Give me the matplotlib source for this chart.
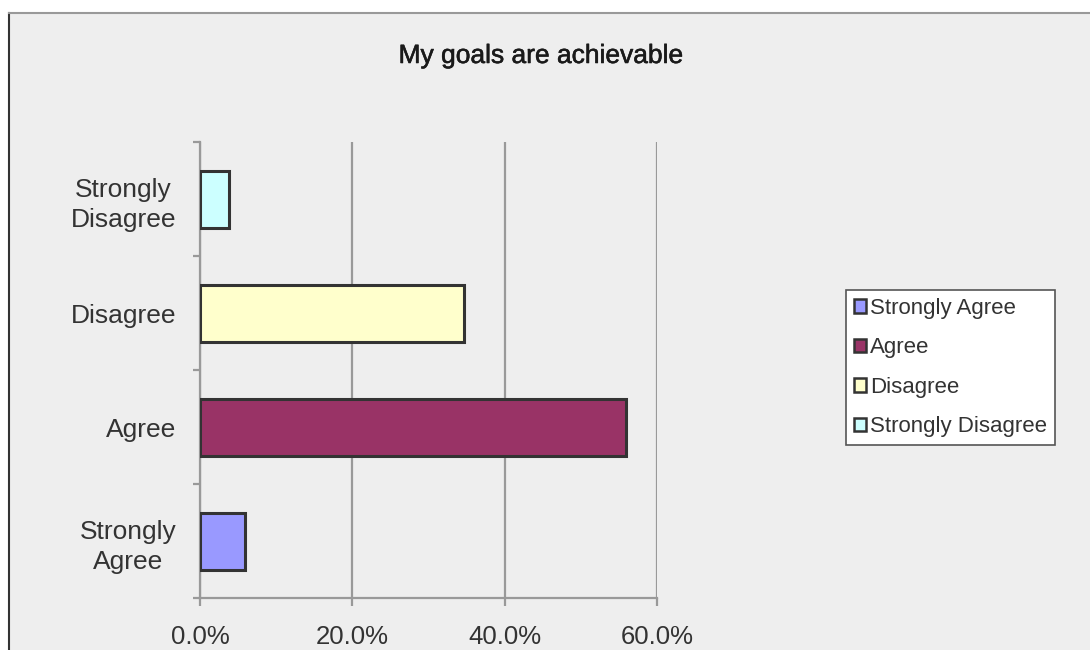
import matplotlib
matplotlib.use("Agg")
import matplotlib.pyplot as plt
from matplotlib.patches import Rectangle
from matplotlib.lines import Line2D
from matplotlib.ticker import FuncFormatter, FixedLocator
import matplotlib.patheffects as pe

categories = ["Strongly Agree", "Agree", "Disagree", "Strongly Disagree"]
tick_labels = ["Strongly\nAgree", "Agree", "Disagree", "Strongly\nDisagree"]
values = [0.059, 0.559, 0.346, 0.038]
colors = ["#9999FF", "#993366", "#FFFFCC", "#CCFFFF"]
x_ticks = [0.0, 0.2, 0.4, 0.6]
title = "My goals are achievable"

plt.rcParams['font.family'] = ['Liberation Sans', 'DejaVu Sans']

W, H = 1090, 650
fig = plt.figure(figsize=(W / 100, H / 100), dpi=100, facecolor="white")

# chart area background and frame
fig.patches.append(Rectangle((8.5 / W, 0), 1 - 8.5 / W, 1 - 12.5 / H,
                             transform=fig.transFigure, facecolor="#EEEEEE",
                             edgecolor="none", zorder=-10))
fig.lines.append(Line2D([8.5 / W, 8.5 / W], [0, 1 - 12.5 / H], transform=fig.transFigure,
                        color="#333333", lw=1.5, zorder=-9))
fig.lines.append(Line2D([8.5 / W, 1], [1 - 12.5 / H, 1 - 12.5 / H], transform=fig.transFigure,
                        color="#999999", lw=1.5, zorder=-9))

ax = fig.add_axes([200 / W, (H - 598) / H, 457 / W, 456 / H])
ax.set_facecolor("none")

ypos = list(range(len(categories)))
for i, (c, v, col) in enumerate(zip(categories, values, colors)):
    ax.barh(i, v, height=0.5, color=col, edgecolor="#333333", linewidth=2.2,
            label=c, zorder=3)

ax.set_xlim(0, 0.6)
ax.set_ylim(-0.5, len(categories) - 0.5)
ax.xaxis.set_major_locator(FixedLocator(x_ticks))
ax.xaxis.set_major_formatter(FuncFormatter(lambda v, p: f"{v*100:.1f}%"))
ax.grid(axis="x", color="#999999", linewidth=1.6, zorder=1)
ax.set_axisbelow(True)

for s in ["top", "right"]:
    ax.spines[s].set_visible(False)
for s in ["left", "bottom"]:
    ax.spines[s].set_color("#999999")
    ax.spines[s].set_linewidth(1.6)

ax.set_yticks(ypos)
ax.set_yticklabels(tick_labels, ma="center", linespacing=1.35)
ax.yaxis.set_minor_locator(FixedLocator([i - 0.5 for i in range(len(categories) + 1)]))
ax.tick_params(axis="y", which="major", length=0, pad=17, labelsize=19, labelcolor="#333333")
ax.tick_params(axis="y", which="minor", length=5, width=1.6, color="#999999")
ax.tick_params(axis="x", which="major", length=6, width=1.6, color="#999999",
               pad=13.5, labelsize=18.5, labelcolor="#333333")

fig.text(541 / W, 1 - 56 / H, title, ha="center", va="center", fontsize=19,
         color="#1a1a1a",
         path_effects=[pe.withStroke(linewidth=0.4, foreground="#1a1a1a")])

leg = ax.legend(loc="center left", bbox_to_anchor=(846 / W, 1 - 367.5 / H),
                bbox_transform=fig.transFigure, frameon=True, fancybox=False,
                framealpha=1.0,
                fontsize=16, handlelength=0.55, handleheight=0.55,
                handletextpad=0.2, labelspacing=0.83, borderpad=0.35,
                borderaxespad=0, labelcolor="#333333")
leg.get_frame().set_edgecolor("#555555")
leg.get_frame().set_linewidth(1.2)
leg.get_frame().set_facecolor("white")
for h in leg.legend_handles:
    h.set_linewidth(1.8)

fig.savefig("out.png", dpi=100, facecolor="white")
